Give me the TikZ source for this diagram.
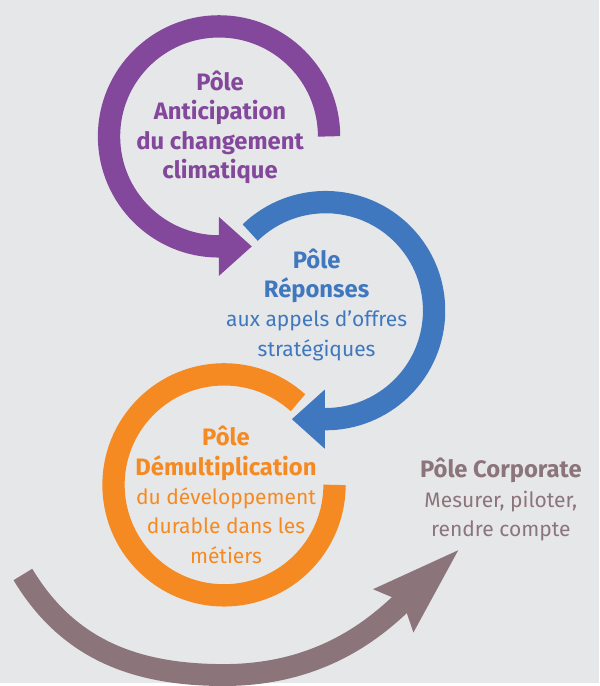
\documentclass[tikz,border=0pt]{standalone}
\usepackage{fontspec}
\setmainfont{Fira Sans}
\usetikzlibrary{arrows.meta, calc, positioning}
\definecolor{polepurple}{RGB}{131,72,155}
\definecolor{poleblue}{RGB}{63,120,190}
\definecolor{poleorange}{RGB}{245,138,34}
\definecolor{polebrown}{RGB}{140,117,122}
\definecolor{bggray}{RGB}{230,231,233}

\begin{document}
\begin{tikzpicture}[x=0.025cm, y=0.025cm,
		ring/.style={line width=0.56cm},
		ringtip/.style={-{Triangle[length=0.83cm,width=1.43cm]}},
		poletext/.style={align=center, font=\fontsize{17}{21}\selectfont}]
		\fill[bggray] (0,0) rectangle (602,686);
		
		%----------------------------------------------------------------
		\coordinate (pa) at (220,549);
		\coordinate (pb) at (327,374);
		\coordinate (pc) at (225,199);
		
		\node(anticipation) [poletext,polepurple] at (221,558) {\bfseries Pôle\\ \bfseries Anticipation\\ \bfseries du changement\\ \bfseries climatique};
		\node(reponses) [poletext,poleblue] at (318,380) {\bfseries Pôle\\ \bfseries Réponses\\ \fontsize{15}{18}\selectfont aux appels d’offres\\ \fontsize{15}{18}\selectfont stratégiques};
		\node(demult) [poletext,poleorange] at (227,189) {\bfseries Pôle\\ \bfseries Démultiplication\\ \fontsize{15}{18}\selectfont du développement\\ \fontsize{15}{18}\selectfont durable dans les\\ \fontsize{15}{18}\selectfont métiers};
		\node(corporate) [poletext,polebrown] at (503,184) {\bfseries Pôle Corporate\\ \fontsize{15}{18}\selectfont Mesurer, piloter,\\ \fontsize{15}{18}\selectfont rendre compte};
		
		%----------------------------------------------------------------
		\draw[ring,ringtip,polepurple] ($(pa)+(110.5,0)$) arc[start angle=0,end angle=270,radius=110.5] -- ++(33,0);
		\draw[ring,ringtip,poleblue] ($(pb)+(134:109)$) arc[start angle=134,end angle=-90,radius=109] -- ++(-34,0);
		\draw[ring,poleorange] ($(pc)+(48:111)$) arc[start angle=48,end angle=360,radius=111];
		
		%----------------------------------------------------------------
		\coordinate (bstart) at (23,109);
		\coordinate (bbottom) at (225,8);
		\coordinate (btip) at (462,135);
		\draw[line width=0.55cm,polebrown,-{Stealth[length=2.2cm,width=1.35cm,inset=0.25cm]}]
		(bstart) to[out=-59,in=180] (bbottom) to[out=0,in=223] (btip);
		
	\end{tikzpicture}
\end{document}
